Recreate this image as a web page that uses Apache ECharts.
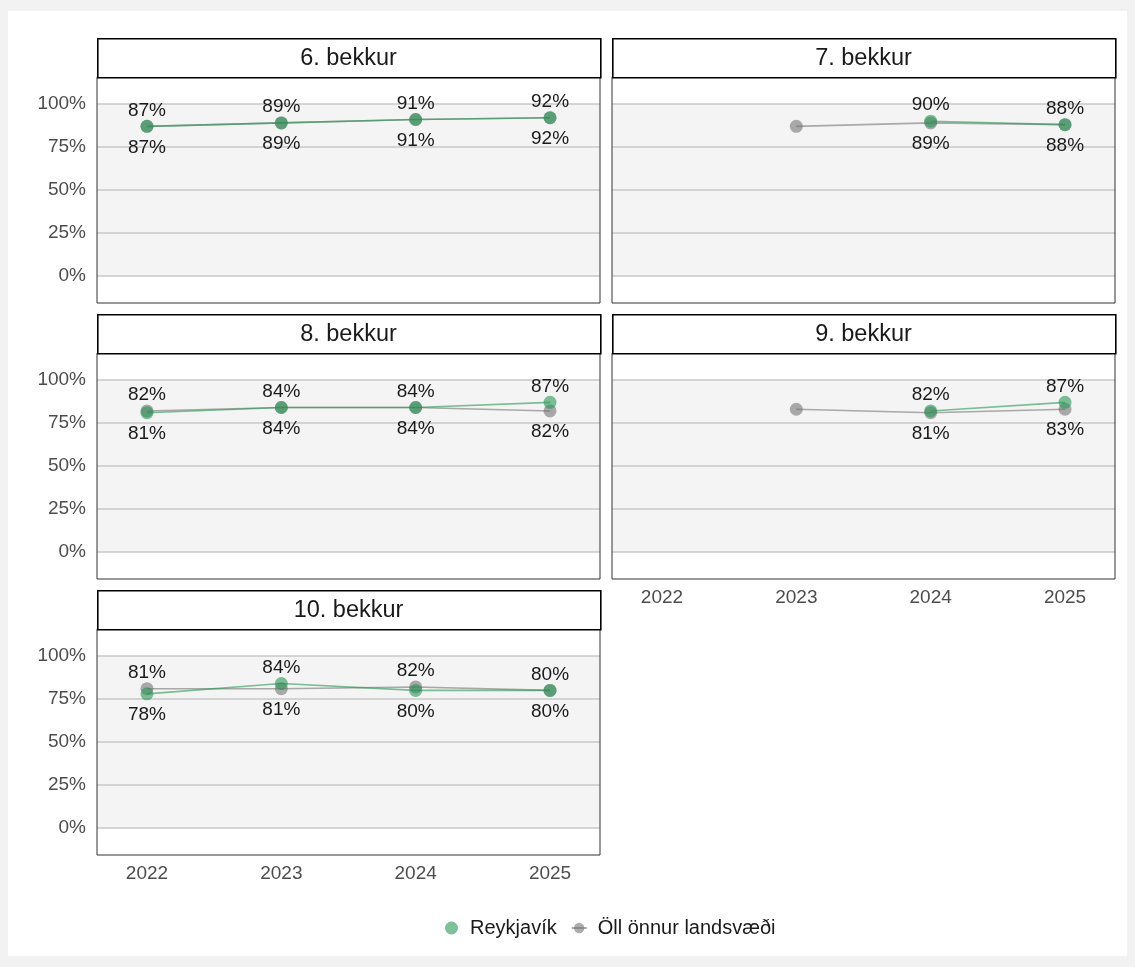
<!DOCTYPE html>
<html>
<head>
<meta charset="utf-8">
<script src="https://cdn.jsdelivr.net/npm/echarts@6/dist/echarts.min.js"></script>
<style>
  html, body { margin: 0; padding: 0; background: #f2f2f2; }
  #chart { position: absolute; left: 8px; top: 11px; width: 1119px; height: 945px; background: #ffffff; }
</style>
</head>
<body>
<div id="chart"></div>
<script>
// ---- data ----
const years = [2022, 2023, 2024, 2025];
const panelNames = ['6. bekkur', '7. bekkur', '8. bekkur', '9. bekkur', '10. bekkur'];
const reykjavikValues = [
  [87, 89, 91, 92],
  [null, null, 90, 88],
  [81, 84, 84, 87],
  [null, null, 82, 87],
  [78, 84, 80, 80]
];
const otherValues = [
  [87, 89, 91, 92],
  [null, 87, 89, 88],
  [82, 84, 84, 82],
  [null, 83, 81, 83],
  [81, 81, 82, 80]
];
const yTicks = [0, 25, 50, 75, 100];
const seriesNames = ['Reykjavík', 'Öll önnur landsvæði'];

// ---- styles / layout ----
const FONT = 'Liberation Sans, Arial, Helvetica, sans-serif';
const greenColor = 'rgba(40,150,85,0.6)';
const grayColor = 'rgba(105,105,105,0.55)';
const colLeft = [89, 604];
const rowTop = [66, 342, 618];
const plotW = 503, plotH = 226, stripH = 39;
const panelPos = [[0, 0], [1, 0], [0, 1], [1, 1], [0, 2]];
const showX = [false, false, false, true, true];

const grids = [], xAxes = [], yAxes = [], series = [], graphics = [];

panelNames.forEach((name, i) => {
  const [c, r] = panelPos[i];
  const left = colLeft[c], top = rowTop[r];
  grids.push({
    left: left, top: top, width: plotW, height: plotH,
    show: true, backgroundColor: 'transparent', borderColor: '#333333', borderWidth: 1, z: 4
  });
  xAxes.push({
    type: 'value', gridIndex: i, min: 2021.628, max: 2025.372,
    axisLine: { show: false }, axisTick: { show: false, customValues: years },
    splitLine: { show: false },
    axisLabel: { show: showX[i], customValues: years, color: '#4d4d4d', fontSize: 19, fontFamily: FONT, margin: 9,
      formatter: v => String(v) },
    z: 2
  });
  yAxes.push({
    type: 'value', gridIndex: i, min: -15.7, max: 115.7,
    axisLine: { show: false }, axisTick: { show: false, customValues: yTicks },
    splitLine: { show: true, lineStyle: { color: '#c8c8c8', width: 1.5 } },
    axisLabel: { show: c === 0, customValues: yTicks, color: '#4d4d4d', fontSize: 19, fontFamily: FONT, margin: 11,
      padding: [4, 0, 0, 0], formatter: v => v + '%' },
    z: 2
  });
  // background band 0-100
  series.push({
    type: 'line', xAxisIndex: i, yAxisIndex: i, data: [], z: 0, silent: true,
    markArea: { silent: true, z: 0, itemStyle: { color: '#f4f4f4' }, data: [[{ yAxis: 0 }, { yAxis: 100 }]] }
  });
  const rv = reykjavikValues[i], ov = otherValues[i];
  const mk = (vals, otherVals, isR) => {
    const out = [];
    years.forEach((y, k) => {
      const v = vals[k];
      if (v === null) return;
      const o = otherVals[k];
      let label = { show: false };
      if (o !== null) {
        const up = isR ? (v >= o) : (v > o);
        label = { show: true, position: up ? 'top' : 'bottom', distance: up ? 0 : 5 };
      }
      out.push({ value: [y, v], label: label });
    });
    return out;
  };
  const labelBase = { color: '#1a1a1a', fontSize: 19, fontFamily: FONT, lineHeight: 19,
    formatter: p => p.value[1] + '%' };
  series.push({
    name: seriesNames[1], type: 'line', xAxisIndex: i, yAxisIndex: i, z: 3,
    data: mk(ov, rv, false), symbol: 'circle', symbolSize: 13,
    itemStyle: { color: grayColor }, lineStyle: { color: grayColor, width: 1.6 },
    label: labelBase, emphasis: { disabled: true }
  });
  series.push({
    name: seriesNames[0], type: 'line', xAxisIndex: i, yAxisIndex: i, z: 3,
    data: mk(rv, ov, true), symbol: 'circle', symbolSize: 13,
    itemStyle: { color: greenColor }, lineStyle: { color: greenColor, width: 1.6 },
    label: labelBase, emphasis: { disabled: true }
  });
  // strip
  graphics.push({
    type: 'rect', left: left, top: top - stripH, z: 10,
    shape: { width: plotW, height: stripH },
    style: { fill: '#ffffff', stroke: '#000000', lineWidth: 1.6 }
  });
  graphics.push({
    type: 'text', z: 11, x: left + plotW / 2, y: top - stripH / 2 + 1,
    style: { text: name, fill: '#1a1a1a', font: '23.5px ' + FONT, textAlign: 'center', textVerticalAlign: 'middle' }
  });
});

const chart = echarts.init(document.getElementById('chart'));
chart.setOption({
  backgroundColor: '#ffffff',
  animation: false,
  grid: grids,
  xAxis: xAxes,
  yAxis: yAxes,
  series: series,
  graphic: graphics,
  legend: {
    left: 432, top: 902,
    itemWidth: 15, itemHeight: 13, itemGap: 14,
    textStyle: { color: '#1a1a1a', fontSize: 20, fontFamily: FONT, padding: [0, 0, 0, 6] },
    data: [{ name: seriesNames[0], icon: 'circle' }, { name: seriesNames[1] }]
  }
});
</script>
</body>
</html>
